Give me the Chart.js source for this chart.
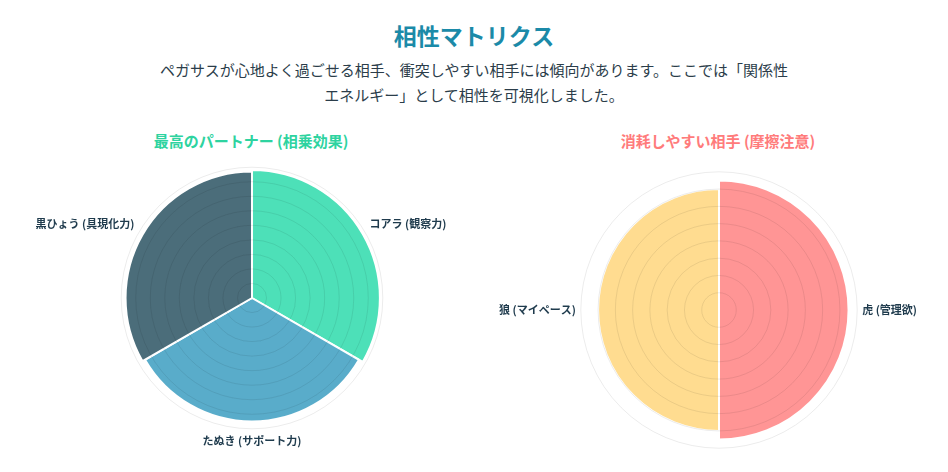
<!DOCTYPE html>
<html><head><meta charset="utf-8">
<script src="https://cdn.jsdelivr.net/npm/chart.js@4/dist/chart.umd.min.js"></script>
<style>
body{margin:0;background:#fff;font-family:"Noto Sans CJK JP","Noto Sans",sans-serif;color:#1f3b4d;width:948px;height:472px;overflow:hidden}
h1{margin:18px 0 0;text-align:center;font-size:23px;color:#1b8aa8;font-weight:700}
p.sub{margin:5px auto 0;width:690px;text-align:center;font-size:15px;line-height:25px;color:#2b3d4a}
.col{position:absolute;top:130px;text-align:center}
.col h2{margin:0;font-size:15px;font-weight:700}
.box{position:relative;height:300px;margin-top:6px}
</style></head><body>
<h1>相性マトリクス</h1>
<p class="sub">ペガサスが心地よく過ごせる相手、衝突しやすい相手には傾向があります。ここでは「関係性<br>エネルギー」として相性を可視化しました。</p>
<div class="col" style="left:21px;width:460px"><h2 style="color:#2ed3a0">最高のパートナー (相乗効果)</h2><div class="box"><canvas id="good"></canvas></div></div>
<div class="col" style="left:498px;width:440px"><h2 style="color:#ff7b7b">消耗しやすい相手 (摩擦注意)</h2><div class="box"><canvas id="bad"></canvas></div></div>
<script>
const goodLabels = ['コアラ (観察力)', 'たぬき (サポート力)', '黒ひょう (具現化力)'];
const goodValues = [88, 85, 87];
const goodColors = ['rgba(46,219,171,0.85)', 'rgba(60,157,193,0.85)', 'rgba(44,84,99,0.85)'];
const badLabels = ['虎 (管理欲)', '狼 (マイペース)'];
const badValues = [75, 70];
const badColors = ['rgba(255,130,130,0.85)', 'rgba(255,214,125,0.85)'];

function drawPolar(id, labels, values, colors, max, pad) {
    new Chart(document.getElementById(id), {
        type: 'polarArea',
        data: { labels: labels, datasets: [{ data: values, backgroundColor: colors, borderColor: '#fff', borderWidth: 2 }] },
        options: {
            responsive: true, maintainAspectRatio: false, animation: false,
            layout: { padding: pad },
            plugins: { legend: { display: false }, tooltip: { enabled: false } },
            scales: {
                r: {
                    min: 0, max: max,
                    ticks: { display: false, stepSize: 10 },
                    grid: { color: 'rgba(0,0,0,0.08)', z: 1 },
                    pointLabels: { display: true, centerPointLabels: true, color: '#1f3b4d',
                        font: { size: 11, weight: '700', family: '"Noto Sans CJK JP", sans-serif' } }
                }
            }
        }
    });
}
drawPolar('good', goodLabels, goodValues, goodColors, 90, {top: 2, bottom: 0});
drawPolar('bad', badLabels, badValues, badColors, 80, {top: 12, bottom: 6});
</script>
</body></html>
